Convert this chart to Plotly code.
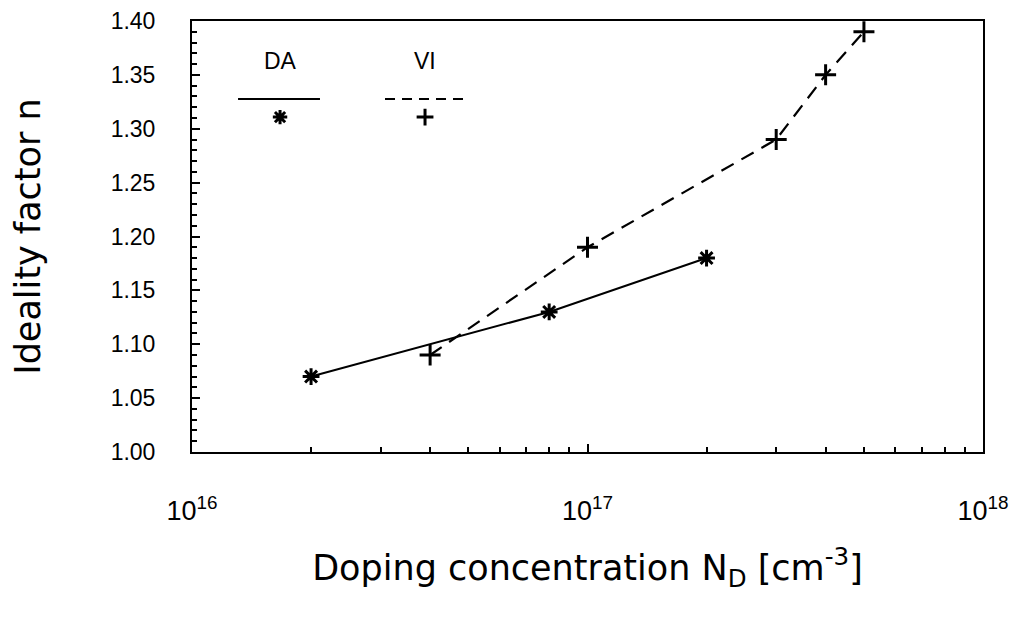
import plotly.graph_objects as go

# ---- data ----
da_x = [2e16, 8e16, 2e17]
da_n = [1.07, 1.13, 1.18]
vi_x = [4e16, 1e17, 3e17, 4e17, 5e17]
vi_n = [1.09, 1.19, 1.29, 1.35, 1.39]

x_major = [1e16, 1e17, 1e18]
x_major_text = ["10<sup>16</sup>", "10<sup>17</sup>", "10<sup>18</sup>"]
x_minor = [m * 10**e for e in (16, 17) for m in range(2, 10)]
y_major = [1.00, 1.05, 1.10, 1.15, 1.20, 1.25, 1.30, 1.35, 1.40]
y_minor = [round(1.00 + 0.01 * i, 2) for i in range(41)]

series_names = ["DA", "VI"]

BLACK = "black"
TICKFONT = dict(family="Liberation Sans, Arial, sans-serif", size=23, color=BLACK)
XTICKFONT = dict(family="Liberation Sans, Arial, sans-serif", size=27, color=BLACK)
TITLEFONT = dict(family="DejaVu Sans, sans-serif", size=35, color=BLACK)

fig = go.Figure()

fig.add_trace(go.Scatter(
    x=da_x, y=da_n, mode="lines+markers", name=series_names[0],
    line=dict(color=BLACK, width=2),
    marker=dict(symbol="asterisk-open", size=14, color=BLACK,
                line=dict(color=BLACK, width=3)),
    showlegend=False,
))
fig.add_trace(go.Scatter(
    x=vi_x, y=vi_n, mode="lines+markers", name=series_names[1],
    line=dict(color=BLACK, width=2.2, dash="14px,9px"),
    marker=dict(symbol="cross-thin-open", size=15, color=BLACK,
                line=dict(color=BLACK, width=3)),
    showlegend=False,
))

# ---- hand-drawn style legend (paper coordinates via hidden overlay axes) ----
leg_y_text = 0.907
leg_y_line = 0.819
leg_y_mark = 0.777
leg = [
    (series_names[0], 0.1113, 0.0582, 0.1618, "solid", "asterisk-open"),
    (series_names[1], 0.2946, 0.2440, 0.3490, "dash", "cross-thin-open"),
]
for name, xc, x0, x1, dash, sym in leg:
    fig.add_annotation(x=xc, y=leg_y_text, xref="paper", yref="paper", text=name,
                       xanchor="center", yanchor="middle",
                       showarrow=False, font=dict(family="Liberation Sans, Arial, sans-serif",
                                                  size=23, color=BLACK))
    fig.add_shape(type="line", xref="paper", yref="paper", x0=x0, x1=x1,
                  y0=leg_y_line, y1=leg_y_line,
                  line=dict(color=BLACK, width=2.2, dash="solid" if dash == "solid" else "10px,7px"))
    fig.add_trace(go.Scatter(
        x=[xc], y=[leg_y_mark], xaxis="x2", yaxis="y2", mode="markers",
        marker=dict(symbol=sym, size=12, color=BLACK, line=dict(color=BLACK, width=3)),
        showlegend=False, hoverinfo="skip",
    ))

fig.update_layout(
    width=1024, height=621,
    margin=dict(l=184, r=49, t=13, b=177, autoexpand=False),
    paper_bgcolor="white", plot_bgcolor="white",
    xaxis=dict(
        type="log", range=[16, 18], automargin=False,
        tickvals=x_major, ticktext=x_major_text,
        ticks="inside", ticklen=8, tickwidth=1.5, tickcolor=BLACK,
        ticklabelstandoff=34,
        minor=dict(tickvals=x_minor, ticks="inside", ticklen=5, tickwidth=1.5, tickcolor=BLACK),
        showline=True, linecolor=BLACK, linewidth=2, mirror=True,
        showgrid=False, zeroline=False,
        tickfont=XTICKFONT,
        title=dict(text="Doping concentration N<sub>D</sub> [cm<sup>-3</sup>]",
                   font=TITLEFONT, standoff=30),
    ),
    yaxis=dict(
        range=[1.0, 1.4], automargin=False,
        tickvals=y_major, tickformat=".2f",
        ticks="inside", ticklen=8, tickwidth=2, tickcolor=BLACK,
        ticklabelstandoff=30,
        minor=dict(tickvals=y_minor, ticks="inside", ticklen=5, tickwidth=1.5, tickcolor=BLACK),
        showline=True, linecolor=BLACK, linewidth=2, mirror=True,
        showgrid=False, zeroline=False,
        tickfont=TICKFONT,
        title=dict(text="Ideality factor n", font=TITLEFONT, standoff=75),
    ),
    xaxis2=dict(overlaying="x", range=[0, 1], visible=False, fixedrange=True),
    yaxis2=dict(overlaying="y", range=[0, 1], visible=False, fixedrange=True),
)

fig.write_html("out.html")
